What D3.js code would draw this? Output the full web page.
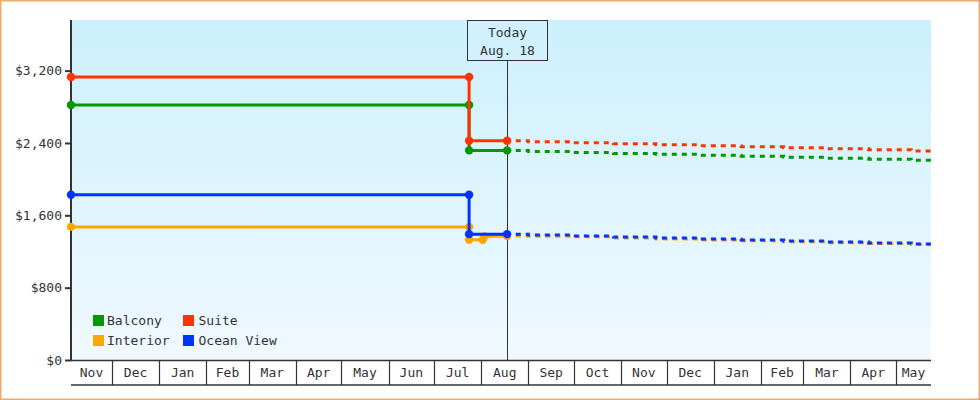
<!DOCTYPE html>
<html>
<head>
<meta charset="utf-8">
<script src="https://cdn.jsdelivr.net/npm/d3@7"></script>
<style>
  body { margin: 0; background: #fff; }
  svg text { font-family: "DejaVu Sans Mono", monospace; font-size: 13px; fill: #333; }
</style>
</head>
<body>
<div id="chart"></div>
<script>
// series: name, colour
const seriesNames = ['Interior', 'Ocean View', 'Balcony', 'Suite'];
const seriesColors = ['#ffa500', '#0033ff', '#009900', '#ff3300'];
const legendOrder = ['Balcony', 'Suite', 'Interior', 'Ocean View'];

// price history up to today
const interiorHistory = [['2017-11-04', 1472], ['2018-07-24', 1472], ['2018-07-24', 1329],
  ['2018-08-02', 1329], ['2018-08-03', 1366], ['2018-08-18', 1370]];
const oceanViewHistory = [['2017-11-04', 1827], ['2018-07-24', 1827], ['2018-07-24', 1392], ['2018-08-18', 1392]];
const balconyHistory = [['2017-11-04', 2820], ['2018-07-24', 2820], ['2018-07-24', 2318], ['2018-08-18', 2318]];
const suiteHistory = [['2017-11-04', 3130], ['2018-07-24', 3130], ['2018-07-24', 2425], ['2018-08-18', 2425]];

// forecast after today
const forecastDates = ['2018-08-18', '2018-09-01', '2018-09-29', '2018-10-27', '2018-11-24', '2018-12-22',
  '2019-01-19', '2019-02-16', '2019-03-16', '2019-04-13', '2019-05-11', '2019-05-24'];
const interiorForecast = [1370, 1368, 1362, 1350, 1338, 1328, 1318, 1308, 1296, 1288, 1276, 1276];
const oceanViewForecast = [1392, 1382, 1371, 1360, 1349, 1338, 1327, 1316, 1305, 1294, 1282, 1282];
const balconyForecast = [2318, 2307, 2296, 2285, 2274, 2263, 2252, 2241, 2230, 2219, 2208, 2208];
const suiteForecast = [2425, 2414, 2403, 2392, 2381, 2370, 2359, 2348, 2336, 2325, 2312, 2312];

const yTicks = [0, 800, 1600, 2400, 3200];
const today = '2018-08-18';
const todayLabel = ['Today', 'Aug. 18'];
const xStart = '2017-11-04';
const xEnd = '2019-05-24';

const parse = d3.utcParse('%Y-%m-%d');
const histories = [interiorHistory, oceanViewHistory, balconyHistory, suiteHistory];
const forecasts = [interiorForecast, oceanViewForecast, balconyForecast, suiteForecast];

const W = 980, H = 400;
const margin = { top: 20, right: 49, bottom: 40, left: 71 };

const svg = d3.select('#chart').append('svg')
  .attr('width', W)
  .attr('height', H);

const x = d3.scaleUtc()
  .domain([parse(xStart), parse(xEnd)])
  .range([margin.left, W - margin.right]);
const y = d3.scaleLinear()
  .domain([0, 3760])
  .range([H - margin.bottom, margin.top]);

// page frame
svg.append('rect')
  .attr('x', 0.75).attr('y', 0.75)
  .attr('width', W - 1.5).attr('height', H - 1.5)
  .attr('fill', '#fff')
  .attr('stroke', '#eeaa66')
  .attr('stroke-width', 1.5);

// plot background
const grad = svg.append('defs').append('linearGradient')
  .attr('id', 'bg').attr('x1', 0).attr('y1', 0).attr('x2', 0).attr('y2', 1);
grad.append('stop').attr('offset', '0%').attr('stop-color', '#ccf0fd');
grad.append('stop').attr('offset', '100%').attr('stop-color', '#f0f9ff');

svg.append('rect')
  .attr('x', margin.left)
  .attr('y', margin.top)
  .attr('width', x.range()[1] - x.range()[0])
  .attr('height', y.range()[0] - y.range()[1])
  .attr('fill', 'url(#bg)');

// x axis: one cell per month
const axisY = y(0);
const months = d3.utcMonth.range(d3.utcMonth.floor(x.domain()[0]), x.domain()[1]);
const xAxis = svg.append('g').attr('class', 'x-axis');
months.forEach(function (m, i) {
  const x0 = Math.max(x(m), x.range()[0]);
  const x1 = Math.min(x(d3.utcMonth.offset(m, 1)), x.range()[1]);
  if (i > 0) {
    xAxis.append('line')
      .attr('x1', Math.round(x0) + 0.5).attr('x2', Math.round(x0) + 0.5)
      .attr('y1', axisY).attr('y2', axisY + 25)
      .attr('stroke', '#333').attr('stroke-width', 1.2);
  }
  xAxis.append('text')
    .attr('x', (x0 + x1) / 2)
    .attr('y', axisY + 17)
    .attr('text-anchor', 'middle')
    .text(d3.utcFormat('%b')(m));
});
xAxis.append('line')
  .attr('x1', x.range()[0]).attr('x2', x.range()[1])
  .attr('y1', axisY + 25).attr('y2', axisY + 25)
  .attr('stroke', '#333').attr('stroke-width', 1.5);
xAxis.append('line')
  .attr('x1', x.range()[0]).attr('x2', x.range()[1])
  .attr('y1', axisY + 0.5).attr('y2', axisY + 0.5)
  .attr('stroke', '#333').attr('stroke-width', 1.5);

// y axis
const yAxis = svg.append('g')
  .attr('transform', 'translate(' + margin.left + ',0)')
  .call(d3.axisLeft(y).tickValues(yTicks).tickSize(6).tickPadding(3)
    .tickFormat(function (d) { return '$' + d3.format(',')(d); }));
yAxis.select('.domain').remove();
yAxis.selectAll('.tick line').attr('stroke', '#333').attr('stroke-width', 2);
yAxis.attr('font-family', null).attr('font-size', null);
svg.append('line')
  .attr('x1', margin.left).attr('x2', margin.left)
  .attr('y1', margin.top).attr('y2', axisY + 1)
  .attr('stroke', '#333').attr('stroke-width', 2);

// today marker line
const tx = Math.round(x(parse(today))) + 0.5;
svg.append('line')
  .attr('x1', tx).attr('x2', tx)
  .attr('y1', 60).attr('y2', axisY)
  .attr('stroke', '#333').attr('stroke-width', 1);

// series
const line = d3.line()
  .x(function (d) { return x(parse(d[0])); })
  .y(function (d) { return y(d[1]); });
const stepLine = d3.line()
  .curve(d3.curveStepAfter)
  .x(function (d) { return x(parse(d[0])); })
  .y(function (d) { return y(d[1]); });

seriesNames.forEach(function (name, i) {
  const g = svg.append('g').attr('class', 'series');
  const color = seriesColors[i];
  const fc = forecastDates.map(function (d, j) { return [d, forecasts[i][j]]; });
  g.append('path')
    .attr('d', stepLine(fc))
    .attr('fill', 'none')
    .attr('stroke', color)
    .attr('stroke-width', 3)
    .attr('stroke-dasharray', '5,5')
    .attr('stroke-dashoffset', 1.3);
  g.append('path')
    .attr('d', line(histories[i]))
    .attr('fill', 'none')
    .attr('stroke', color)
    .attr('stroke-width', 3);
  g.selectAll('circle')
    .data(histories[i])
    .enter().append('circle')
    .attr('cx', function (d) { return x(parse(d[0])); })
    .attr('cy', function (d) { return y(d[1]); })
    .attr('r', 4.2)
    .attr('fill', color);
});

// today box
const box = svg.append('g');
box.append('rect')
  .attr('x', 467.5).attr('y', 20.5)
  .attr('width', 80).attr('height', 40)
  .attr('fill', '#d0f1fd')
  .attr('stroke', '#333').attr('stroke-width', 1);
todayLabel.forEach(function (t, i) {
  box.append('text')
    .attr('x', 507.5)
    .attr('y', 37 + i * 18)
    .attr('text-anchor', 'middle')
    .text(t);
});

// legend
const legend = svg.append('g');
legendOrder.forEach(function (name, i) {
  const col = i % 2, row = Math.floor(i / 2);
  const lx = 93 + col * 90, ly = 315 + row * 20;
  legend.append('rect')
    .attr('x', lx).attr('y', ly)
    .attr('width', 11).attr('height', 11)
    .attr('fill', seriesColors[seriesNames.indexOf(name)]);
  legend.append('text')
    .attr('x', lx + 14 + col * 1.5)
    .attr('y', ly + 10)
    .text(name);
});
</script>
</body>
</html>
